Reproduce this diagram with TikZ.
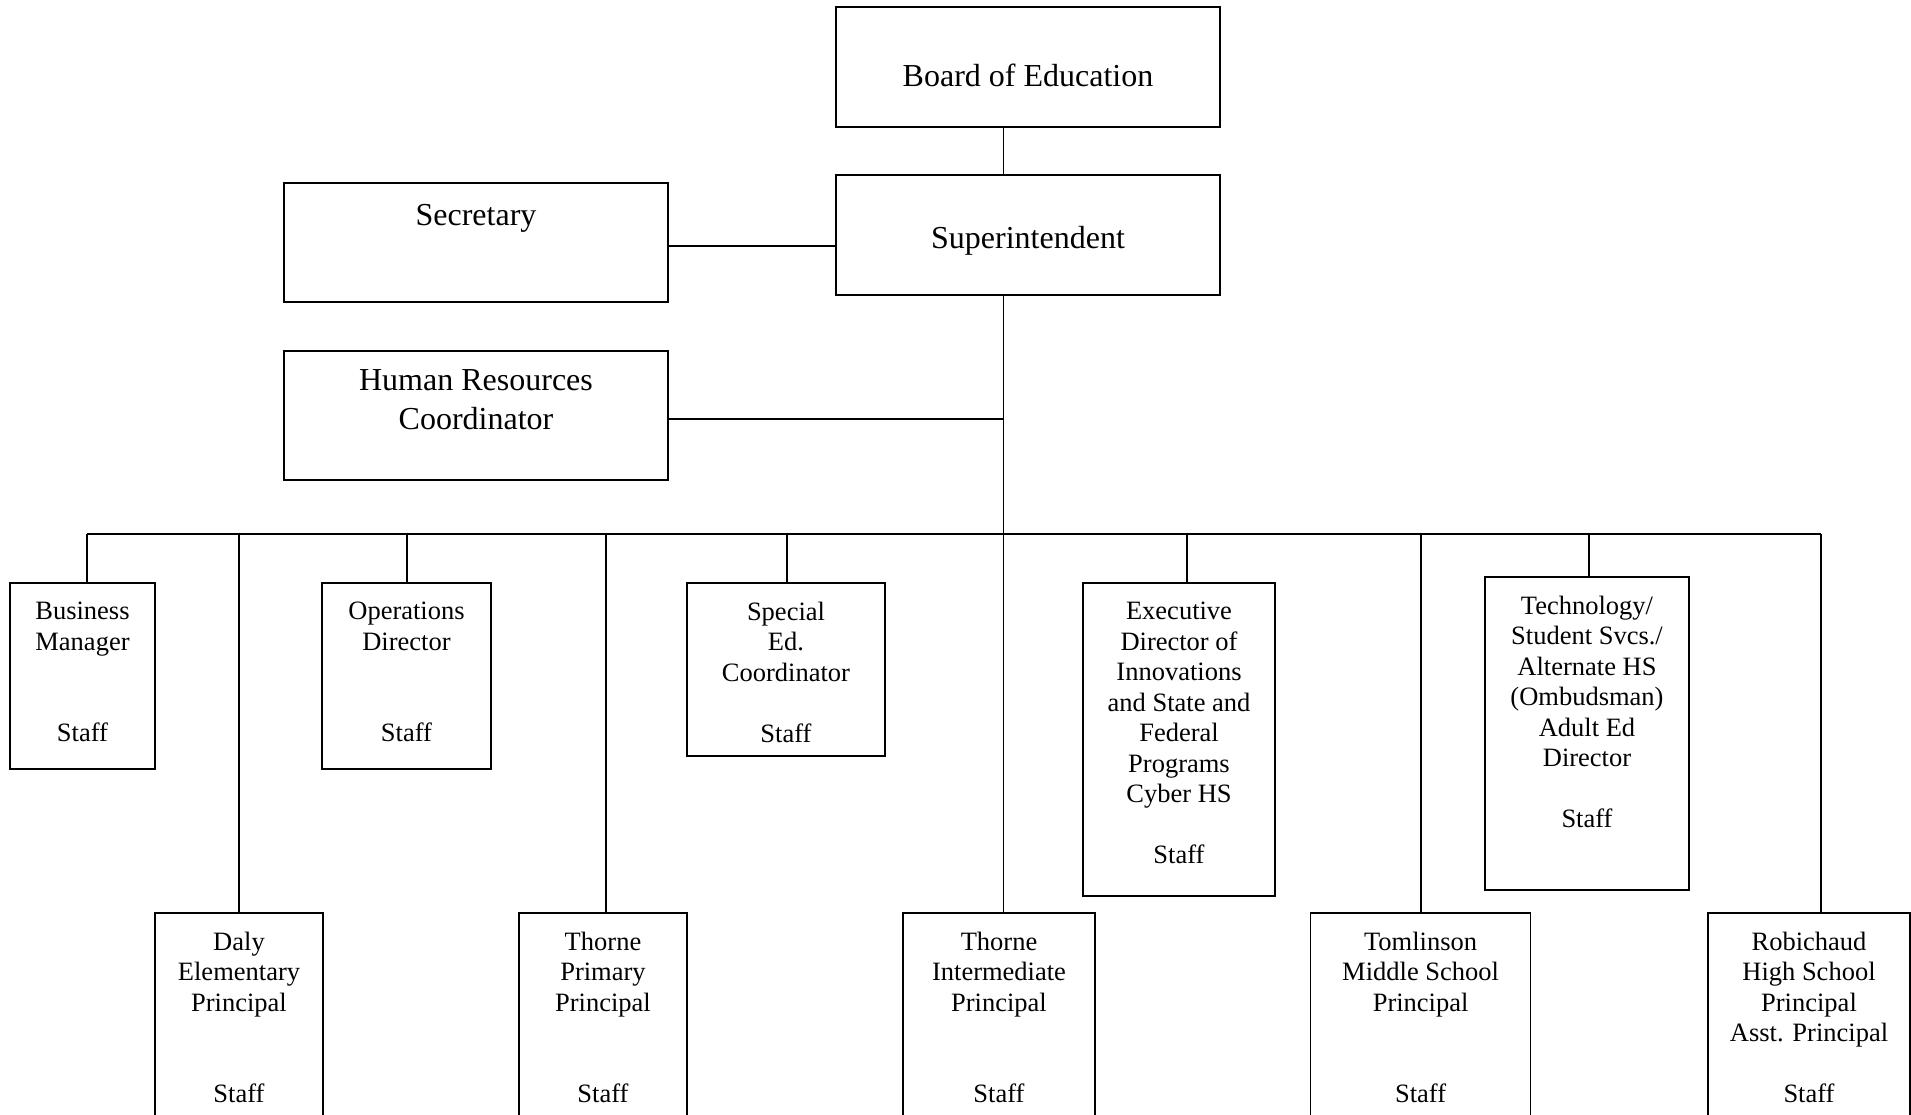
\documentclass[tikz,border=0pt]{standalone}
\usepackage{fontspec}
\setmainfont{Liberation Serif}
\begin{document}
\begin{tikzpicture}[x=1pt,y=-1pt,line width=1.6pt,
  box/.style={draw=black,line width=1.6pt,inner sep=0pt,outer sep=0pt},
  txt/.style={anchor=north,yshift=21.35pt,align=center,inner sep=0pt,font=\fontsize{26.5}{30.5}\selectfont,execute at begin node=\strut},
  bigtxt/.style={anchor=north,yshift=26.95pt,align=center,inner sep=0pt,font=\fontsize{32}{38.5}\selectfont,execute at begin node=\strut},
  link/.style={draw=black,line width=1.6pt}]
\useasboundingbox (0,0) rectangle (1911,1114);
\clip (0,0) rectangle (1911,1114);
% top boxes
\node[box,minimum width=384,minimum height=120] (board) at (1028,67) {};
\node[bigtxt] (boardT) at (1028,85.5) {Board of Education};
\node[box,minimum width=384,minimum height=120] (super) at (1028,235) {};
\node[bigtxt] (superT) at (1028,247.5) {Superintendent};
\node[box,minimum width=384,minimum height=119] (sec) at (476,242.5) {};
\node[bigtxt] (secT) at (476,224.5) {Secretary};
\node[box,minimum width=384,minimum height=129] (hr) at (476,415.5) {};
\node[bigtxt] (hrT) at (476,396) {Human Resources\\Coordinator};
% first row
\node[box,minimum width=145,minimum height=186] (bm) at (82.5,676) {};
\node[txt] (bmT) at (82.5,622.5) {Business\\Manager\\[61pt]Staff};
\node[box,minimum width=169,minimum height=186] (ops) at (406.5,676) {};
\node[txt] (opsT) at (406.5,622.5) {Operations\\Director\\[61pt]Staff};
\node[box,minimum width=198,minimum height=173] (spec) at (786,669.5) {};
\node[txt] (specT) at (786,622.5) {Special\\Ed.\\Coordinator\\[30.5pt]Staff};
\node[box,minimum width=192,minimum height=313] (exec) at (1179,739.5) {};
\node[txt] (execT) at (1179,622.5) {Executive\\Director of\\Innovations\\and State and\\Federal\\Programs\\Cyber HS\\[30.5pt]Staff};
\node[box,minimum width=204,minimum height=313] (tech) at (1587,733.5) {};
\node[txt] (techT) at (1587,616.5) {Technology/\\Student Svcs./\\Alternate HS\\(Ombudsman)\\Adult Ed\\Director\\[30.5pt]Staff};
% bottom row
\node[box,minimum width=168,minimum height=227] (daly) at (239,1026.5) {};
\node[txt] (dalyT) at (239,952.5) {Daly\\Elementary\\Principal\\[61pt]Staff};
\node[box,minimum width=168.5,minimum height=227] (tp) at (603,1026.5) {};
\node[txt] (tpT) at (603,952.5) {Thorne\\Primary\\Principal\\[61pt]Staff};
\node[box,minimum width=192,minimum height=227] (ti) at (999,1026.5) {};
\node[txt] (tiT) at (999,952.5) {Thorne\\Intermediate\\Principal\\[61pt]Staff};
\node[box,minimum width=220,minimum height=227] (tom) at (1420.6,1026.5) {};
\node[txt] (tomT) at (1420.6,952.5) {Tomlinson\\Middle School\\Principal\\[61pt]Staff};
\node[box,minimum width=202,minimum height=227] (rob) at (1809,1026.5) {};
\node[txt] (robT) at (1809,952.5) {Robichaud\\High School\\Principal\\Asst. Principal\\[30.5pt]Staff};
% connectors
\coordinate (tx) at (1003.5,0);
\coordinate (secY) at (0,246);
\coordinate (hrY) at (0,419);
\draw[link] (board.south -| tx) -- (super.north -| tx);
\draw[link] (sec.east |- secY) -- (super.west |- secY);
\draw[link] (hr.east |- hrY) -- (tx |- hrY);
\draw[link] (super.south -| tx) -- (ti.north -| tx);
\coordinate (busL) at (87,534);
\coordinate (busR) at (1821,534);
\draw[link] (busL) -- (busR);
\coordinate (dBm) at (87,534);
\coordinate (dDaly) at (239,534);
\coordinate (dOps) at (407,534);
\coordinate (dTp) at (606,534);
\coordinate (dSpec) at (787,534);
\coordinate (dExec) at (1187,534);
\coordinate (dTom) at (1421,534);
\coordinate (dTech) at (1589,534);
\coordinate (dRob) at (1821,534);
\draw[link] (dBm) -- (dBm |- bm.north);
\draw[link] (dDaly) -- (dDaly |- daly.north);
\draw[link] (dOps) -- (dOps |- ops.north);
\draw[link] (dTp) -- (dTp |- tp.north);
\draw[link] (dSpec) -- (dSpec |- spec.north);
\draw[link] (dExec) -- (dExec |- exec.north);
\draw[link] (dTom) -- (dTom |- tom.north);
\draw[link] (dTech) -- (dTech |- tech.north);
\draw[link] (dRob) -- (dRob |- rob.north);
\end{tikzpicture}
\end{document}
